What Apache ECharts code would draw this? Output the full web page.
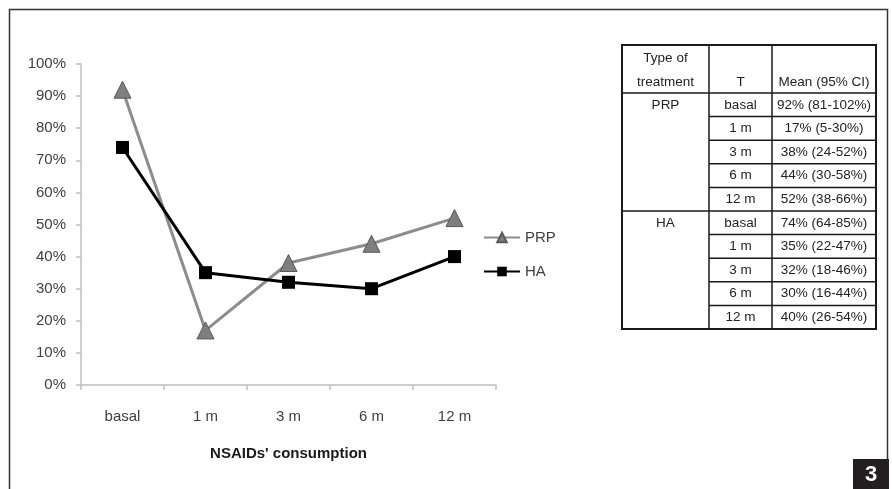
<!DOCTYPE html>
<html>
<head>
<meta charset="utf-8">
<script src="https://cdn.jsdelivr.net/npm/echarts@6/dist/echarts.min.js"></script>
<style>
  html, body { margin: 0; padding: 0; background: #fff; }
  #main { width: 892px; height: 489px; }
</style>
</head>
<body>
<div id="main"></div>
<script>
// data
const times = ['basal', '1 m', '3 m', '6 m', '12 m'];
const yTicks = [0, 10, 20, 30, 40, 50, 60, 70, 80, 90, 100];
const prpMean = [92, 17, 38, 44, 52];
const haMean = [74, 35, 32, 30, 40];
const prpCI = ['81-102%', '5-30%', '24-52%', '30-58%', '38-66%'];
const haCI = ['64-85%', '22-47%', '18-46%', '16-44%', '26-54%'];
const treatments = ['PRP', 'HA'];

const chart = echarts.init(document.getElementById('main'));

// table built from the arrays above
const tbl = { x0: 622, x1: 709, x2: 772, x3: 876, top: 45, head: 93, rowH: 23.6 };
const tableFont = '13.5px "Liberation Sans", Arial, sans-serif';
const g = [];
function hLine(xa, xb, y, w) {
    g.push({ type: 'line', shape: { x1: xa, y1: y, x2: xb, y2: y }, style: { stroke: '#1a1a1a', lineWidth: w || 1.5 } });
}
function vLine(x, ya, yb, w) {
    g.push({ type: 'line', shape: { x1: x, y1: ya, x2: x, y2: yb }, style: { stroke: '#1a1a1a', lineWidth: w || 1.5 } });
}
function txt(s, x, y, align) {
    g.push({ type: 'text', x: x, y: y, style: { text: s, font: tableFont, fill: '#222', align: align || 'center', verticalAlign: 'middle' } });
}
const nRows = times.length * treatments.length;
const bottom = tbl.head + nRows * tbl.rowH;
g.push({ type: 'rect', shape: { x: tbl.x0, y: tbl.top, width: tbl.x3 - tbl.x0, height: bottom - tbl.top }, style: { fill: 'none', stroke: '#1a1a1a', lineWidth: 2 } });
vLine(tbl.x1, tbl.top, bottom);
vLine(tbl.x2, tbl.top, bottom);
hLine(tbl.x0, tbl.x3, tbl.head);
txt('Type of', (tbl.x0 + tbl.x1) / 2, 58);
txt('treatment', (tbl.x0 + tbl.x1) / 2, 82);
txt('T', (tbl.x1 + tbl.x2) / 2, 82);
txt('Mean (95% CI)', (tbl.x2 + tbl.x3) / 2, 82);
treatments.forEach((t, gi) => {
    const means = gi === 0 ? prpMean : haMean;
    const cis = gi === 0 ? prpCI : haCI;
    const gTop = tbl.head + gi * times.length * tbl.rowH;
    txt(t, (tbl.x0 + tbl.x1) / 2, gTop + tbl.rowH / 2);
    times.forEach((tm, i) => {
        const yTop = gTop + i * tbl.rowH;
        if (i > 0) hLine(tbl.x1, tbl.x3, yTop);
        txt(tm, (tbl.x1 + tbl.x2) / 2, yTop + tbl.rowH / 2);
        txt(means[i] + '% (' + cis[i] + ')', (tbl.x2 + tbl.x3) / 2, yTop + tbl.rowH / 2);
    });
    if (gi > 0) hLine(tbl.x0, tbl.x3, gTop);
});

// outer frame and figure number
g.push({ type: 'rect', shape: { x: 9.5, y: 9.5, width: 878, height: 500 }, style: { fill: 'none', stroke: '#333', lineWidth: 1.5 }, z: 10 });
g.push({ type: 'rect', shape: { x: 853, y: 459, width: 36, height: 30 }, style: { fill: '#231f20' }, z: 11 });
g.push({ type: 'text', x: 871, y: 475, z: 12, style: { text: '3', font: 'bold 22px "Liberation Sans", Arial, sans-serif', fill: '#fff', align: 'center', verticalAlign: 'middle' } });

const axisColor = '#bfbfbf';
const labelColor = '#404040';

chart.setOption({
    animation: false,
    backgroundColor: '#fff',
    grid: { left: 81, right: 396, top: 64, bottom: 104 },
    legend: {
        orient: 'vertical',
        left: 478,
        top: 225,
        itemWidth: 36,
        itemHeight: 12,
        itemGap: 19,
        textStyle: { color: labelColor, fontSize: 15, fontFamily: 'Liberation Sans' },
        data: ['PRP', 'HA']
    },
    xAxis: {
        type: 'category',
        data: times,
        boundaryGap: true,
        name: "NSAIDs' consumption",
        nameLocation: 'middle',
        nameGap: 61,
        nameTextStyle: { color: '#1a1a1a', fontSize: 15, fontWeight: 'bold', fontFamily: 'Liberation Sans' },
        axisLine: { lineStyle: { color: axisColor, width: 1.5 } },
        axisTick: { show: true, length: 5, lineStyle: { color: axisColor, width: 1.5 } },
        axisLabel: { color: labelColor, fontSize: 15, margin: 24, fontFamily: 'Liberation Sans' },
        splitLine: { show: false }
    },
    yAxis: {
        type: 'value',
        min: yTicks[0],
        max: yTicks[yTicks.length - 1],
        interval: 10,
        axisLine: { show: true, lineStyle: { color: axisColor, width: 1.5 } },
        axisTick: { show: true, length: 5, lineStyle: { color: axisColor, width: 1.5 } },
        axisLabel: { color: labelColor, fontSize: 15, margin: 15, fontFamily: 'Liberation Sans', formatter: '{value}%' },
        splitLine: { show: false }
    },
    series: [
        {
            name: 'PRP',
            type: 'line',
            data: prpMean,
            symbol: 'triangle',
            symbolSize: 17,
            lineStyle: { color: '#8c8c8c', width: 3 },
            itemStyle: { color: '#7f7f7f', borderColor: '#595959', borderWidth: 1 }
        },
        {
            name: 'HA',
            type: 'line',
            data: haMean,
            symbol: 'rect',
            symbolSize: 13,
            lineStyle: { color: '#000', width: 3 },
            itemStyle: { color: '#000' }
        }
    ],
    graphic: g
});
</script>
</body>
</html>
